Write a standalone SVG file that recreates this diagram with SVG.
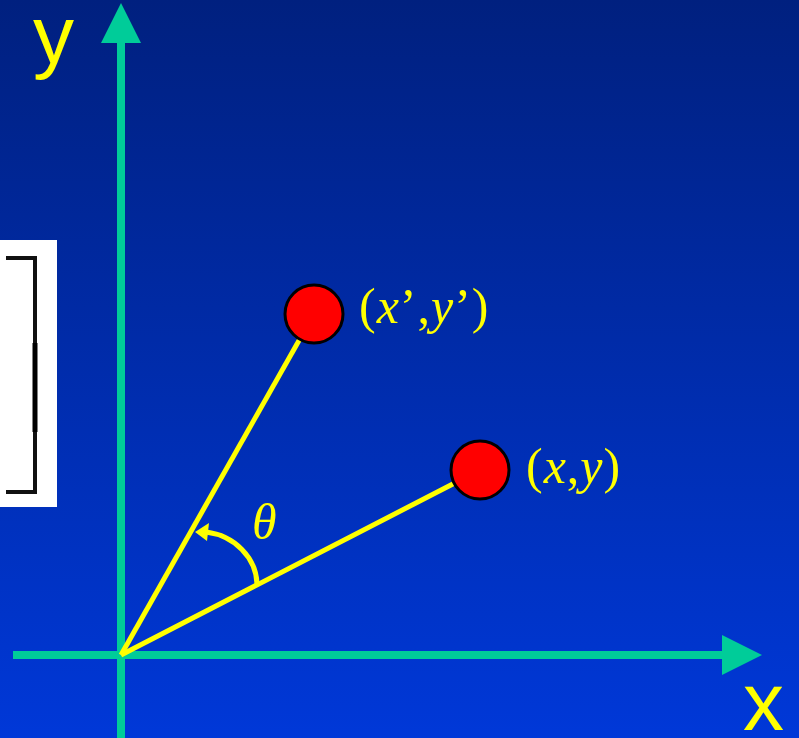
<svg xmlns="http://www.w3.org/2000/svg" width="799" height="738" viewBox="0 0 799 738">
<defs>
<linearGradient id="bg" x1="0" y1="0" x2="0" y2="1">
<stop offset="0" stop-color="#00207f"/>
<stop offset="1" stop-color="#0038d8"/>
</linearGradient>
<style>
.axis{stroke:#00cc99;stroke-width:8;fill:none}
.head{fill:#00cc99}
.ray{stroke:#ffff00;stroke-width:5;fill:none}
.pt{fill:#ff0000;stroke:#000;stroke-width:3}
.lbl{fill:#ffff00;font-family:"Liberation Serif","Times New Roman",serif;font-size:50px}
.ax{fill:#ffff00;font-family:"Liberation Sans",Arial,sans-serif;font-size:82px}
</style>
</defs>
<rect width="799" height="738" fill="url(#bg)"/>
<g id="matrix">
<rect x="0" y="240" width="57" height="267" fill="#ffffff"/>
<path d="M6,258 H35 V492 H6" fill="none" stroke="#111" stroke-width="4"/>
<line x1="35" y1="343" x2="35" y2="432" stroke="#000" stroke-width="5"/>
</g>
<g id="connectors">
<line class="axis" x1="121" y1="738" x2="121" y2="40"/>
<polygon class="head" points="121,3 101,43 141,43"/>
<line class="axis" x1="13" y1="655" x2="725" y2="655"/>
<polygon class="head" points="762,655 722,635 722,675"/>
<line class="ray" x1="121" y1="655" x2="314" y2="314"/>
<line class="ray" x1="121" y1="655" x2="480" y2="470"/>
<path class="ray" stroke-width="6" d="M257,584 A59,54 0 0 0 206,532"/>
<polygon fill="#ffff00" points="195,532 209,523 207,541"/>
</g>
<g id="label-y"><text class="ax" x="33" y="63">y</text></g>
<g id="label-x"><text class="ax" x="743" y="730">x</text></g>
<g id="point-xy-prime">
<circle class="pt" cx="314" cy="314" r="29"/>
<text class="lbl" x="359" y="323" letter-spacing="1">(<tspan font-style="italic">x</tspan>’,<tspan font-style="italic">y</tspan>’)</text>
</g>
<g id="point-xy">
<circle class="pt" cx="480" cy="470" r="29"/>
<text class="lbl" x="526" y="483" letter-spacing="1">(<tspan font-style="italic">x</tspan>,<tspan font-style="italic">y</tspan>)</text>
</g>
<g id="theta"><text class="lbl" x="252" y="539" font-style="italic">θ</text></g>
</svg>
